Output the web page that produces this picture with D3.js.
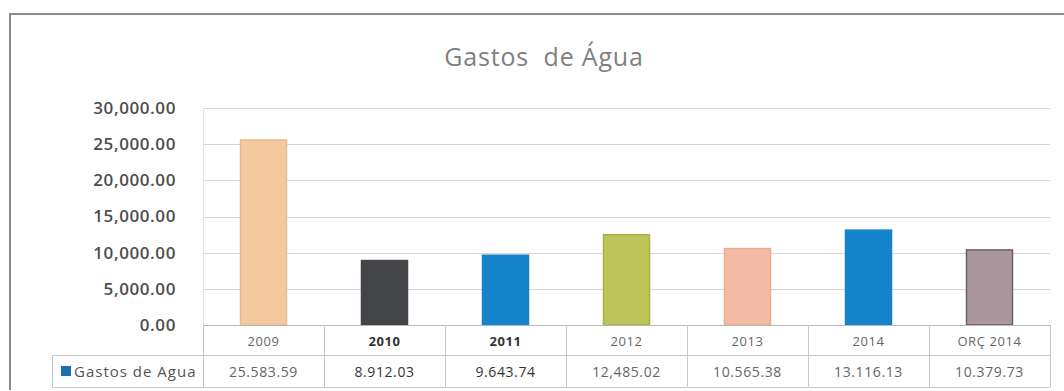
<!DOCTYPE html>
<html>
<head>
<meta charset="utf-8">
<script src="https://cdn.jsdelivr.net/npm/d3@7"></script>
<style>
  html, body { margin: 0; padding: 0; background: #fff; }
  svg { display: block; font-family: "Open Sans", "Liberation Sans", sans-serif; }
</style>
</head>
<body>
<svg id="chart" width="1064" height="391"></svg>
<script>
// Annual water expenses
const categories = ["2009", "2010", "2011", "2012", "2013", "2014", "ORÇ 2014"];
const values = [25583.59, 8912.03, 9643.74, 12485.02, 10565.38, 13116.13, 10379.73];
const valueLabels = ["25.583.59", "8.912.03", "9.643.74", "12,485.02", "10.565.38", "13.116.13", "10.379.73"];
const barColors = ["#f3caa0", "#444548", "#1483cb", "#bdc558", "#f3bba5", "#1483cb", "#a8989d"];
const barStrokes = ["#e8bb8a", "#444548", "#1483cb", "#a9b046", "#e9ab93", "#1483cb", "#6e5f64"];
const yTicks = [0, 5000, 10000, 15000, 20000, 25000, 30000];
const seriesName = "Gastos de Agua";
const titleText = "Gastos  de Água";

const svg = d3.select("#chart");

const plot = { left: 203, right: 1050, top: 108, bottom: 325 };
const tableBottom = 387;
const rowMid = 355;
const legendLeft = 52;

const x = d3.scaleBand().domain(categories).range([plot.left, plot.right]).paddingInner(0).paddingOuter(0);
const y = d3.scaleLinear().domain([0, 30000]).range([plot.bottom, plot.top]);

// outer frame
svg.append("path")
  .attr("d", `M10,${390} V14 H1064`)
  .attr("fill", "none").attr("stroke", "#8c8c8c").attr("stroke-width", 2);

// title
svg.append("text")
  .attr("x", 544).attr("y", 66)
  .attr("text-anchor", "middle")
  .attr("font-size", 25).attr("fill", "#808080")
  .attr("letter-spacing", 0.8)
  .attr("xml:space", "preserve")
  .style("white-space", "pre")
  .text(titleText);

// gridlines
const fmt = d3.format(",.2f");
svg.append("g").selectAll("line").data(yTicks.filter(d => d > 0)).join("line")
  .attr("x1", plot.left).attr("x2", plot.right)
  .attr("y1", d => Math.round(y(d)) + 0.5).attr("y2", d => Math.round(y(d)) + 0.5)
  .attr("stroke", "#d6d6d6").attr("stroke-width", 1);

// left plot edge
svg.append("line")
  .attr("x1", plot.left + 0.5).attr("x2", plot.left + 0.5)
  .attr("y1", plot.top).attr("y2", plot.bottom)
  .attr("stroke", "#e2e2e2");

// y axis labels
const yAxis = d3.axisLeft(y).tickValues(yTicks).tickFormat(fmt).tickSize(0).tickPadding(0);
const yg = svg.append("g").attr("transform", `translate(176,0)`).call(yAxis);
yg.select(".domain").remove();
yg.selectAll("text")
  .attr("font-size", 17).attr("font-weight", 600).attr("fill", "#4d4d4d")
  .attr("letter-spacing", 0.6)
  .style("font-family", "'Open Sans', sans-serif");

// bars
const bw = 46;
svg.append("g").selectAll("rect").data(values).join("rect")
  .attr("x", (d, i) => x(categories[i]) + x.bandwidth() / 2 - bw / 2)
  .attr("y", d => y(d))
  .attr("width", bw)
  .attr("height", d => y(0) - y(d))
  .attr("fill", (d, i) => barColors[i])
  .attr("stroke", (d, i) => barStrokes[i])
  .attr("stroke-width", 1.5);

// data table
const tg = svg.append("g");
const gridStroke = "#c8c8c8";
[plot.bottom, rowMid, tableBottom].forEach((yy, k) => {
  tg.append("line")
    .attr("x1", k === 0 ? plot.left : legendLeft).attr("x2", plot.right)
    .attr("y1", yy + 0.5).attr("y2", yy + 0.5)
    .attr("stroke", k === 0 ? "#b8b8b8" : gridStroke);
});
const xs = categories.map(c => x(c)).concat([plot.right]);
tg.selectAll("line.v").data(xs).join("line").attr("class", "v")
  .attr("x1", d => Math.round(d) + 0.5).attr("x2", d => Math.round(d) + 0.5)
  .attr("y1", plot.bottom).attr("y2", tableBottom)
  .attr("stroke", gridStroke);
tg.append("line")
  .attr("x1", legendLeft + 0.5).attr("x2", legendLeft + 0.5)
  .attr("y1", rowMid).attr("y2", tableBottom)
  .attr("stroke", gridStroke);

// category labels
tg.selectAll("text.cat").data(categories).join("text").attr("class", "cat")
  .attr("x", d => x(d) + x.bandwidth() / 2)
  .attr("y", 346)
  .attr("text-anchor", "middle")
  .attr("font-size", 13)
  .attr("letter-spacing", 0.6)
  .attr("font-weight", (d, i) => (i === 1 || i === 2) ? "bold" : "normal")
  .attr("fill", (d, i) => (i === 1 || i === 2) ? "#333" : "#666")
  .text(d => d);

// value labels
tg.selectAll("text.val").data(valueLabels).join("text").attr("class", "val")
  .attr("x", (d, i) => x(categories[i]) + x.bandwidth() / 2)
  .attr("y", 377)
  .attr("text-anchor", "middle")
  .attr("font-size", 14)
  .attr("letter-spacing", 0.6)
  .attr("fill", (d, i) => (i === 1 || i === 2) ? "#333" : "#666")
  .text(d => d);

// legend key
tg.append("rect")
  .attr("x", 61).attr("y", 366).attr("width", 10).attr("height", 10)
  .attr("fill", "#1a6fb0");
tg.append("text")
  .attr("x", 74).attr("y", 377)
  .attr("font-size", 15).attr("fill", "#555")
  .attr("letter-spacing", 1)
  .text(seriesName);
</script>
</body>
</html>
